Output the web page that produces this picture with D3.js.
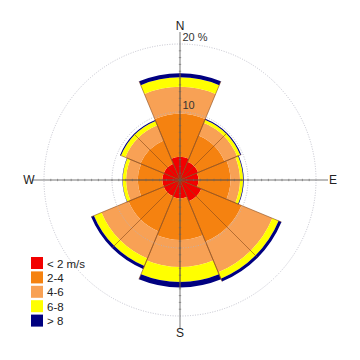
<!DOCTYPE html>
<html>
<head>
<meta charset="utf-8">
<script src="https://cdn.jsdelivr.net/npm/d3@7"></script>
<style>
body { margin: 0; background: #fff; }
svg { display: block; }
</style>
</head>
<body>
<div id="main"></div>
<script>
// data, % of time per direction and speed class
var directions = ["N", "NE", "E", "SE", "S", "SW", "W", "NW"];
var classes = ["< 2 m/s", "2-4", "4-6", "6-8", "> 8"];
var speed_lt2 = [3.4, 2.9, 2.7, 3.4, 2.7, 2.6, 2.6, 2.6];
var speed_2_4 = [6.3, 4.2, 4.7, 6.4, 6.1, 5.6, 3.6, 3.7];
var speed_4_6 = [4.0, 2.0, 1.4, 4.9, 4.0, 4.3, 1.7, 2.4];
var speed_6_8 = [1.4, 0.5, 0.45, 1.0, 2.2, 1.2, 0.5, 0.7];
var speed_gt8 = [0.6, 0.15, 0.1, 0.45, 0.8, 0.45, 0.05, 0.15];
var ring_ticks = [10, 20];
var ring_labels = ["10", "20 %"];

var colors = ["#f20000", "#f58210", "#f8a155", "#ffff00", "#000080"];

var width = 360, height = 360;
var cx = 180, cy = 180;
var font = "Liberation Sans, Arial, sans-serif";

var rows = directions.map(function(d, i) {
    var o = {dir: d};
    o[classes[0]] = speed_lt2[i];
    o[classes[1]] = speed_2_4[i];
    o[classes[2]] = speed_4_6[i];
    o[classes[3]] = speed_6_8[i];
    o[classes[4]] = speed_gt8[i];
    return o;
});
var series = d3.stack().keys(classes)(rows);

var r = d3.scaleLinear().domain([0, 20]).range([0, 136]);
var step = 2 * Math.PI / directions.length;
var angle = function(i) { return i * step; };

var svg = d3.select("#main").append("svg")
    .attr("width", width)
    .attr("height", height);

var g = svg.append("g").attr("transform", "translate(" + cx + "," + cy + ")");

var arc = d3.arc()
    .innerRadius(function(d) { return r(d[0]); })
    .outerRadius(function(d) { return r(d[1]); })
    .startAngle(function(d, i) { return angle(i) - step / 2; })
    .endAngle(function(d, i) { return angle(i) + step / 2; });

series.forEach(function(s, k) {
    g.append("g").selectAll("path")
        .data(s)
        .enter().append("path")
        .attr("d", function(d, i) { return arc(d, i); })
        .attr("fill", colors[k]);
});

// sector edges and mid lines
var totals = series[series.length - 1].map(function(d) { return d[1]; });
function xy(a, rad) { return [rad * Math.sin(a), -rad * Math.cos(a)]; }
totals.forEach(function(t, i) {
    [angle(i) - step / 2, angle(i), angle(i) + step / 2].forEach(function(a) {
        var p = xy(a, r(t));
        g.append("line")
            .attr("x1", 0).attr("y1", 0)
            .attr("x2", p[0]).attr("y2", p[1])
            .attr("stroke", "#8a4a1a")
            .attr("stroke-opacity", 0.75)
            .attr("stroke-width", 0.8);
    });
});

// grid circles
g.selectAll("circle.grid")
    .data(ring_ticks)
    .enter().append("circle")
    .attr("class", "grid")
    .attr("r", function(d) { return r(d); })
    .attr("fill", "none")
    .attr("stroke", "#b4b4c0")
    .attr("stroke-width", 0.8)
    .attr("stroke-dasharray", "1,1.5");

// axes
var axlen = 148;
g.append("line").attr("x1", 0).attr("y1", -axlen).attr("x2", 0).attr("y2", axlen)
    .attr("stroke", "#555").attr("stroke-width", 0.8);
g.append("line").attr("x1", -axlen).attr("y1", 0).attr("x2", axlen).attr("y2", 0)
    .attr("stroke", "#555").attr("stroke-width", 0.8);

var tickvals = d3.range(1, 20);
tickvals.forEach(function(v) {
    [-1, 1].forEach(function(s) {
        g.append("line").attr("x1", -1.2).attr("x2", 1.2)
            .attr("y1", s * r(v)).attr("y2", s * r(v))
            .attr("stroke", "#666").attr("stroke-width", 0.6);
        g.append("line").attr("y1", -1.2).attr("y2", 1.2)
            .attr("x1", s * r(v)).attr("x2", s * r(v))
            .attr("stroke", "#666").attr("stroke-width", 0.6);
    });
});

// ring labels
ring_ticks.forEach(function(v, i) {
    g.append("text")
        .text(ring_labels[i])
        .attr("x", 2.5)
        .attr("y", -r(v) - 3)
        .attr("font-family", font)
        .attr("font-size", "11px")
        .attr("fill", "#333");
});

// compass labels
var compass = [["N", 0, -150, "middle"], ["S", 0, 157, "middle"], ["W", -151, 4, "middle"], ["E", 153, 4, "middle"]];
compass.forEach(function(c) {
    g.append("text")
        .text(c[0])
        .attr("x", c[1])
        .attr("y", c[2])
        .attr("text-anchor", c[3])
        .attr("font-family", font)
        .attr("font-size", "12px")
        .attr("fill", "#222");
});

// legend
var legend = svg.append("g").attr("transform", "translate(31,257)");
classes.forEach(function(c, i) {
    legend.append("rect")
        .attr("x", 0).attr("y", i * 14.4)
        .attr("width", 12).attr("height", 12)
        .attr("fill", colors[i]);
    legend.append("text")
        .text(c)
        .attr("x", 16).attr("y", i * 14.4 + 10.5)
        .attr("font-family", font)
        .attr("font-size", "11.5px")
        .attr("fill", "#222");
});
</script>
</body>
</html>
